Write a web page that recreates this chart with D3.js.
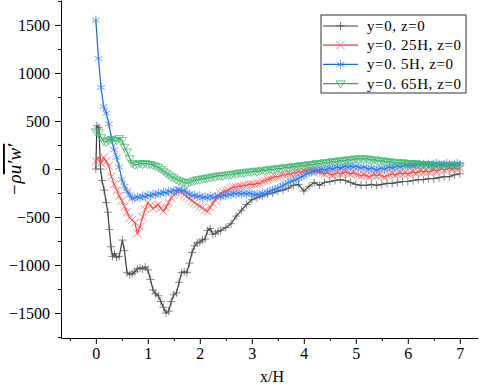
<!DOCTYPE html>
<html>
<head>
<meta charset="utf-8">
<script src="https://cdn.jsdelivr.net/npm/d3@7"></script>
<style>
  body { margin: 0; background: #fff; }
  svg { display: block; }
</style>
</head>
<body>
<div id="vis"></div>
<script>
// x grid shared by the three coloured series
const gridX = [
  0, 0.05, 0.1, 0.15, 0.2, 0.25, 0.3, 0.35, 0.4, 0.45,
  0.5, 0.55, 0.6, 0.65, 0.7, 0.75, 0.8, 0.85, 0.9, 0.95,
  1, 1.05, 1.1, 1.15, 1.2, 1.25, 1.3, 1.35, 1.4, 1.45,
  1.5, 1.55, 1.6, 1.65, 1.7, 1.75, 1.8, 1.85, 1.9, 1.95,
  2, 2.05, 2.1, 2.15, 2.2, 2.25, 2.3, 2.35, 2.4, 2.45,
  2.5, 2.55, 2.6, 2.65, 2.7, 2.75, 2.8, 2.85, 2.9, 2.95,
  3, 3.05, 3.1, 3.15, 3.2, 3.25, 3.3, 3.35, 3.4, 3.45,
  3.5, 3.55, 3.6, 3.65, 3.7, 3.75, 3.8, 3.85, 3.9, 3.95,
  4, 4.05, 4.1, 4.15, 4.2, 4.25, 4.3, 4.35, 4.4, 4.45,
  4.5, 4.55, 4.6, 4.65, 4.7, 4.75, 4.8, 4.85, 4.9, 4.95,
  5, 5.05, 5.1, 5.15, 5.2, 5.25, 5.3, 5.35, 5.4, 5.45,
  5.5, 5.55, 5.6, 5.65, 5.7, 5.75, 5.8, 5.85, 5.9, 5.95,
  6, 6.05, 6.1, 6.15, 6.2, 6.25, 6.3, 6.35, 6.4, 6.45,
  6.5, 6.55, 6.6, 6.65, 6.7, 6.75, 6.8, 6.85, 6.9, 6.95,
  7
];

const redY = [
  80, 120, 60, 120, 80, 30, -80, -160, -220, -280,
  -330, -390, -450, -510, -530, -560, -670, -600, -500, -420,
  -350, -380, -410, -390, -370, -410, -440, -400, -350, -300,
  -270, -250, -220, -240, -270, -290, -310, -330, -350, -370,
  -390, -400, -430, -440, -400, -360, -320, -280, -250, -240,
  -230, -220, -200, -190, -190, -180, -180, -170, -170, -160,
  -160, -160, -150, -150, -130, -120, -110, -100, -90, -80,
  -80, -70, -60, -60, -50, -50, -40, -40, -30, -30,
  -20, -20, -10, -10, -10, -20, -30, -40, -50, -40,
  -50, -60, -50, -40, -50, -40, -30, -40, -50, -40,
  -50, -60, -70, -60, -70, -80, -70, -60, -70, -60,
  -70, -80, -70, -60, -50, -60, -50, -40, -50, -40,
  -50, -40, -30, -40, -30, -20, -30, -20, -30, -20,
  -10, -20, -10, 0, -10, 0, 10, 0, 10, 0,
  10
];

const blueY = [
  1550, 1150, 850, 650, 580, 470, 320, 200, 120, 20,
  -110, -180, -230, -270, -310, -300, -290, -300, -280, -290,
  -270, -280, -260, -270, -250, -260, -240, -250, -230, -240,
  -220, -230, -210, -230, -220, -250, -260, -280, -270, -290,
  -280, -300, -290, -300, -280, -300, -290, -280, -290, -270,
  -280, -260, -270, -250, -260, -250, -260, -250, -260, -250,
  -260, -270, -260, -270, -250, -260, -240, -230, -220, -210,
  -200, -190, -170, -160, -140, -130, -120, -110, -100, -80,
  -70, -50, -40, -30, -20, -20, -10, 0, -10, 0,
  10, 0, 10, 20, 10, 20, 30, 20, 30, 20,
  30, 20, 10, 20, 10, 0, 10, 0, -10, 0,
  10, 0, 10, 20, 10, 20, 30, 20, 30, 40,
  30, 40, 30, 40, 50, 40, 50, 40, 50, 40,
  50, 60, 50, 40, 50, 60, 50, 40, 50, 60,
  50
];

const greenY = [
  390, 380, 330, 290, 280, 300, 310, 290, 300, 320,
  300, 230, 180, 110, 60, 40, 50, 60, 50, 60,
  50, 50, 40, 30, 20, 0, -20, -40, -60, -80,
  -90, -110, -120, -130, -140, -150, -140, -130, -120, -110,
  -110, -100, -100, -90, -90, -80, -80, -70, -70, -70,
  -60, -60, -60, -50, -50, -40, -40, -40, -30, -30,
  -30, -20, -30, -20, -10, -20, -10, 0, -10, 0,
  10, 0, 10, 20, 10, 20, 30, 20, 30, 40,
  30, 40, 50, 40, 50, 60, 50, 60, 70, 60,
  70, 80, 70, 80, 90, 80, 90, 100, 90, 100,
  110, 100, 110, 100, 110, 100, 90, 100, 90, 80,
  90, 80, 70, 80, 70, 60, 70, 60, 70, 60,
  50, 60, 50, 60, 50, 40, 50, 40, 50, 40,
  30, 40, 30, 40, 30, 40, 30, 40, 30, 40,
  30
];

// y=0, z=0 has its own x positions
const blackX = [
  0, 0.02, 0.06, 0.09, 0.12, 0.16, 0.2, 0.23, 0.26, 0.29, 0.32, 0.36, 0.4, 0.45,
  0.51, 0.55, 0.6, 0.65, 0.7, 0.75, 0.8, 0.85, 0.9, 0.95,
  1, 1.05, 1.1, 1.15, 1.2, 1.25, 1.3, 1.35, 1.4, 1.45,
  1.5, 1.55, 1.6, 1.65, 1.7, 1.75, 1.8, 1.85, 1.9, 1.95,
  2, 2.05, 2.1, 2.15, 2.2, 2.25, 2.3, 2.35,
  2.4, 2.5, 2.6, 2.7, 2.8, 2.9, 3, 3.1, 3.2, 3.3, 3.4, 3.5, 3.6, 3.7, 3.8, 3.9,
  4, 4.1, 4.2, 4.3, 4.4, 4.5, 4.6, 4.7, 4.8, 4.9, 5, 5.1, 5.2, 5.3, 5.4, 5.5,
  5.6, 5.7, 5.8, 5.9, 6, 6.1, 6.2, 6.3, 6.4, 6.5, 6.6, 6.7, 6.8, 6.9, 7
];
const blackY = [
  0, 450, 430, 0, -120, -220, -350, -450, -630, -810, -910, -880, -920, -910,
  -740, -850, -1080, -1100, -1090, -1070, -1040, -1030, -1040, -1020,
  -1050, -1150, -1260, -1300, -1320, -1380, -1440, -1500, -1480, -1380,
  -1310, -1290, -1180, -1080, -1070, -1080, -980, -870, -800, -770,
  -760, -740, -730, -640, -620, -680, -670, -650,
  -640, -610, -570, -490, -430, -370, -320, -300, -280, -260, -250, -230, -220, -200, -170, -160,
  -230, -180, -140, -170, -140, -130, -120, -110, -120, -140, -160, -170, -170, -160, -170, -160,
  -150, -150, -140, -130, -130, -120, -110, -110, -100, -100, -90, -80, -80, -60, -50
];

const seriesNames = ["y=0, z=0", "y=0. 25H, z=0", "y=0. 5H, z=0", "y=0. 65H, z=0"];
const xTicks = [0, 1, 2, 3, 4, 5, 6, 7];
const yTicks = [-1500, -1000, -500, 0, 500, 1000, 1500];

const W = 480, H = 385;
const serif = "'Liberation Serif', 'Times New Roman', serif";
const svg = d3.select("#vis").append("svg")
  .attr("width", W).attr("height", H)
  .style("font-family", serif);

const x = d3.scaleLinear().domain([-0.67, 7.35]).range([61, 478]);
const y = d3.scaleLinear().domain([-1760, 1760]).range([338, 0]);

// marker shapes
const mk = {
  plus: s => `M${-s},0H${s}M0,${-s}V${s}`,
  cross: s => `M${-s},${-s}L${s},${s}M${-s},${s}L${s},${-s}`,
  star: s => {
    const a = s * Math.cos(Math.PI / 6), b = s * 0.5;
    return `M0,${-s}V${s}M${-a},${-b}L${a},${b}M${-a},${b}L${a},${-b}`;
  },
  tri: s => `M${-s},${-s * 0.6}L${s},${-s * 0.6}L0,${s}Z`
};

const series = [
  { name: seriesNames[0], xs: blackX, ys: blackY, color: "#3a3a3a", mcolor: "#555", shape: mk.plus, size: 4 },
  { name: seriesNames[1], xs: gridX, ys: redY, color: "#f03c3c", mcolor: "#f55", shape: mk.cross, size: 4 },
  { name: seriesNames[2], xs: gridX, ys: blueY, color: "#1f68d8", mcolor: "#3a7fe8", shape: mk.star, size: 4.5 },
  { name: seriesNames[3], xs: gridX, ys: greenY, color: "#2fa860", mcolor: "#3cb46e", shape: mk.tri, size: 4.5 }
];

// axes
svg.append("g").attr("transform", `translate(0,${y.range()[0]})`)
  .call(d3.axisBottom(x).tickValues(xTicks).tickSize(6).tickSizeOuter(0).tickPadding(4));
svg.append("g").attr("transform", `translate(0,${y.range()[0]})`)
  .call(d3.axisBottom(x).tickValues([-0.5, 0.5, 1.5, 2.5, 3.5, 4.5, 5.5, 6.5]).tickSize(3).tickFormat("").tickSizeOuter(0))
  .select(".domain").remove();

svg.append("g").attr("transform", `translate(${x.range()[0]},0)`)
  .call(d3.axisLeft(y).tickValues(yTicks).tickSize(6).tickSizeOuter(0).tickPadding(5)
    .tickFormat(d => d < 0 ? "\u2212" + Math.abs(d) : d));
svg.append("g").attr("transform", `translate(${x.range()[0]},0)`)
  .call(d3.axisLeft(y).tickValues([-1750, -1250, -750, -250, 250, 750, 1250, 1750]).tickSize(3).tickFormat("").tickSizeOuter(0))
  .select(".domain").remove();

svg.selectAll(".tick text").style("font-size", "16px").style("font-family", serif).attr("fill", "#000");
svg.selectAll(".domain, .tick line").attr("stroke", "#000");

// lines and markers
const plot = svg.append("g");
series.forEach(s => {
  const pts = s.xs.map((v, i) => [v, s.ys[i]]);
  plot.append("path")
    .attr("fill", "none")
    .attr("stroke", s.color)
    .attr("stroke-width", 1.2)
    .attr("d", d3.line().x(d => x(d[0])).y(d => y(d[1]))(pts));
  plot.append("g").selectAll("path")
    .data(pts)
    .join("path")
    .attr("transform", d => `translate(${x(d[0])},${y(d[1])})`)
    .attr("d", s.shape(s.size))
    .attr("fill", "none")
    .attr("stroke", s.mcolor)
    .attr("stroke-opacity", 0.7)
    .attr("stroke-width", 1);
});

// legend
const lg = svg.append("g");
lg.append("rect")
  .attr("x", 321).attr("y", 15).attr("width", 145).attr("height", 78)
  .attr("fill", "#fff").attr("stroke", "#333").attr("stroke-width", 1);
series.forEach((s, i) => {
  const ly = 26 + i * 19.2;
  lg.append("line").attr("x1", 323).attr("x2", 358).attr("y1", ly).attr("y2", ly)
    .attr("stroke", s.color).attr("stroke-width", 1.2);
  lg.append("path").attr("transform", `translate(340.5,${ly})`).attr("d", s.shape(s.size))
    .attr("fill", "none").attr("stroke", s.mcolor).attr("stroke-opacity", 0.8);
  lg.append("text").attr("x", 367).attr("y", ly + 5)
    .style("font-size", "15px").style("letter-spacing", "0.6px").text(s.name);
});

// axis titles
svg.append("text")
  .attr("x", 272).attr("y", 382)
  .attr("text-anchor", "middle")
  .style("font-size", "16px")
  .text("x/H");

const yl = svg.append("text")
  .attr("transform", "translate(21,170) rotate(-90)")
  .attr("text-anchor", "middle")
  .style("font-size", "19px")
  .style("font-style", "italic");
yl.append("tspan").text("\u2212\u03c1");
yl.append("tspan").style("text-decoration", "overline").text("u\u2032w\u2032");
</script>
</body>
</html>
